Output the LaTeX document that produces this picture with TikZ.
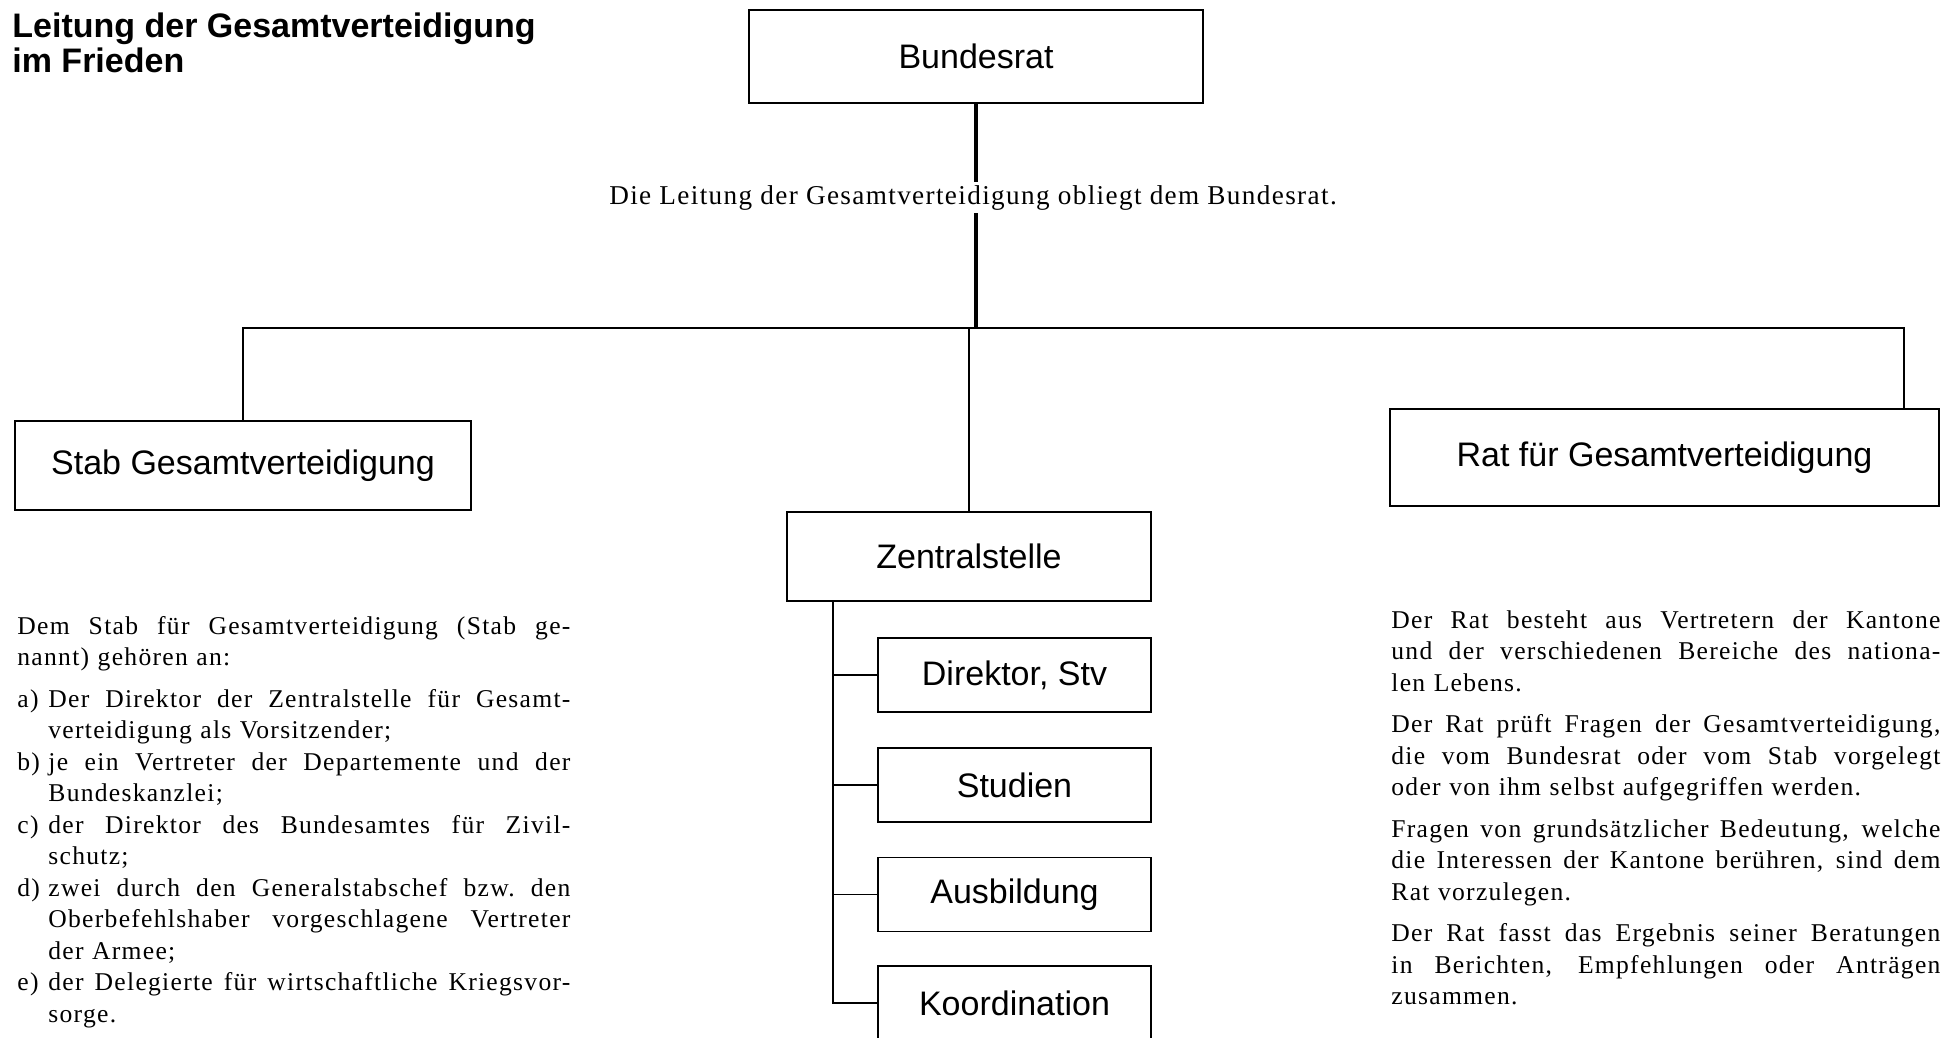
\documentclass[tikz,border=0pt]{standalone}
\usepackage{fontspec}
\setmainfont{Liberation Serif}
\newfontfamily\labelfont{Liberation Sans}
\newfontfamily\bodyfont{Liberation Serif}[LetterSpace=5]
\newcommand\bodysize{\fontsize{12.8}{15.75}\selectfont}
\newlength\itemind
\setlength\itemind{15.5pt}
\newlength\colw
\newcommand\wsp{\spaceskip=0.25em plus 1fil minus 0.06em\relax\xspaceskip=\spaceskip}
\newcommand\jfull[1]{\leavevmode\hbox to\colw{\wsp #1}\par}
\newcommand\jitem[2]{\leavevmode\hbox to\colw{\wsp\hbox to\itemind{#1\hss}#2}\par}
\newcommand\jind[1]{\leavevmode\hbox to\colw{\wsp\hskip\itemind #1}\par}
\newcommand\jplain[1]{\leavevmode\hbox{#1}\par}
\newcommand\jlast[1]{\leavevmode\hbox{\hskip\itemind #1}\par}
\newcommand\pgap{\vspace{5pt}}
\begin{document}
\begin{tikzpicture}[x=0.5pt,y=-0.5pt,
  box/.style={draw, line width=0.8pt, inner sep=0pt, font=\labelfont\fontsize{17}{20}\selectfont},
  conn/.style={line width=0.75pt},
  heavy/.style={line width=2.2pt},
  bodytext/.style={anchor=base west, inner sep=0pt, font=\bodyfont\bodysize}]
\useasboundingbox (0,0) rectangle (1943,1038);

% title
\node[anchor=north west, inner sep=0pt, align=left,
      font=\labelfont\bfseries\fontsize{17}{17.5}\selectfont] (title) at (12,12)
  {Leitung der Gesamtverteidigung\\im Frieden};

% boxes
\node[box, minimum width=227pt, minimum height=46.5pt] (bund) at (976,56.5) {Bundesrat};
\node[box, minimum width=228pt, minimum height=44.5pt] (stab) at (243,465.5) {Stab Gesamtverteidigung};
\node[box, minimum width=274.5pt, minimum height=48.5pt] (rat) at (1664.5,457.5) {Rat für Gesamtverteidigung};
\node[box, minimum width=182pt, minimum height=44.5pt] (zentral) at (969,556.5) {Zentralstelle};
\node[box, minimum width=136.5pt, minimum height=37pt] (dir) at (1014.5,675) {Direktor, Stv};
\node[box, minimum width=136.5pt, minimum height=37pt] (stud) at (1014.5,785) {Studien};
\node[box, minimum width=136.5pt, minimum height=37pt] (ausb) at (1014.5,894.5) {Ausbildung};
\node[box, minimum width=136.5pt, minimum height=37pt] (koord) at (1014.5,1003) {Koordination};

% lead text on the heavy line
\node[anchor=base, inner xsep=0pt, inner ysep=1.5pt, text height=9.5pt, text depth=3pt,
      font=\bodyfont\fontsize{13.6}{16}\selectfont] (lead) at (973,204)
  {Die Leitung der Gesamtverteidigung obliegt dem Bundesrat.};

% connectors
\coordinate (hL) at (243,328);
\coordinate (hR) at (1904,328);
\coordinate (hM) at (976,328);
\coordinate (sx) at (833,0);
\draw[heavy] (bund.south) -- (lead.north -| bund.south);
\draw[heavy] (lead.south -| bund.south) -- (hM);
\draw[conn] (stab.north) -- (hL) -- (hR) -- (hR |- rat.north);
\draw[conn] (zentral.north |- hM) -- (zentral.north);
\draw[conn] (zentral.south -| sx) -- (koord.west -| sx) -- (koord.west);
\draw[conn] (dir.west -| sx) -- (dir.west);
\draw[conn] (stud.west -| sx) -- (stud.west);
\draw[conn] (ausb.west -| sx) -- (ausb.west);

% left text
\node[bodytext, text width=276.5pt] (stabtext) at (17,634) {%
\setlength\colw{276.5pt}%
\jfull{Dem Stab für Gesamtverteidigung (Stab ge-}
\jplain{nannt) gehören an:}
\pgap
\jitem{a)}{Der Direktor der Zentralstelle für Gesamt-}
\jlast{verteidigung als Vorsitzender;}
\jitem{b)}{je ein Vertreter der Departemente und der}
\jlast{Bundeskanzlei;}
\jitem{c)}{der Direktor des Bundesamtes für Zivil-}
\jlast{schutz;}
\jitem{d)}{zwei durch den Generalstabschef bzw. den}
\jind{Oberbefehlshaber vorgeschlagene Vertreter}
\jlast{der Armee;}
\jitem{e)}{der Delegierte für wirtschaftliche Kriegsvor-}
\jlast{sorge.}};

% right text
\node[bodytext, text width=274.5pt] (rattext) at (1391,628) {%
\setlength\colw{274.5pt}%
\jfull{Der Rat besteht aus Vertretern der Kantone}
\jfull{und der verschiedenen Bereiche des nationa-}
\jplain{len Lebens.}
\pgap
\jfull{Der Rat prüft Fragen der Gesamtverteidigung,}
\jfull{die vom Bundesrat oder vom Stab vorgelegt}
\jplain{oder von ihm selbst aufgegriffen werden.}
\pgap
\jfull{Fragen von grundsätzlicher Bedeutung, welche}
\jfull{die Interessen der Kantone berühren, sind dem}
\jplain{Rat vorzulegen.}
\pgap
\jfull{Der Rat fasst das Ergebnis seiner Beratungen}
\jfull{in Berichten, Empfehlungen oder Anträgen}
\jplain{zusammen.}};
\end{tikzpicture}
\end{document}
